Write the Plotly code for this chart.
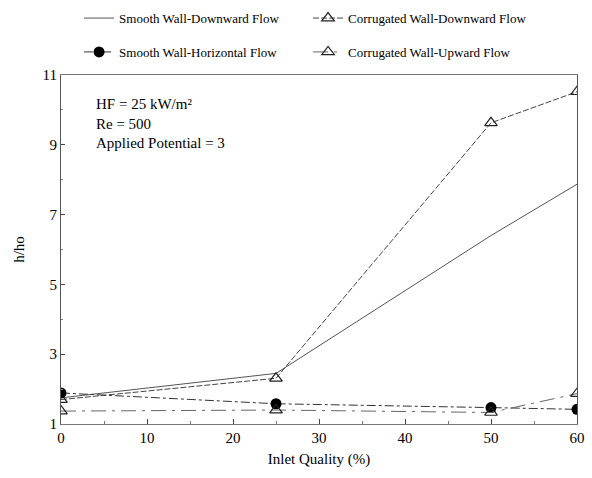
import plotly.graph_objects as go

# Inlet quality (%) at which h/ho was measured
inlet_quality = [0, 25, 50, 60]

# Heat transfer enhancement ratio h/ho for each configuration
smooth_downward = [1.75, 2.45, 6.4, 7.87]
corrugated_downward = [1.70, 2.31, 9.63, 10.52]
smooth_horizontal = [1.89, 1.58, 1.47, 1.42]
corrugated_upward = [1.37, 1.40, 1.33, 1.87]

y_ticks = [1, 3, 5, 7, 9, 11]
x_ticks = [0, 10, 20, 30, 40, 50, 60]

FONT = "Liberation Serif"

fig = go.Figure()

fig.add_trace(go.Scatter(
    x=inlet_quality, y=smooth_downward, name="Smooth Wall-Downward Flow",
    mode="lines", line=dict(color="#555555", width=1),
    legend="legend",
))
fig.add_trace(go.Scatter(
    x=inlet_quality, y=corrugated_downward, name="Corrugated Wall-Downward Flow",
    mode="lines+markers", line=dict(color="#444444", width=1, dash="6px,2px"),
    marker=dict(symbol="triangle-up-open", size=11, color="#222222",
                line=dict(width=1.2)),
    legend="legend",
))
fig.add_trace(go.Scatter(
    x=inlet_quality, y=smooth_horizontal, name="Smooth Wall-Horizontal Flow",
    mode="lines+markers", line=dict(color="#333333", width=1, dash="dashdot"),
    marker=dict(symbol="circle", size=11, color="black"),
    legend="legend2",
))
fig.add_trace(go.Scatter(
    x=inlet_quality, y=corrugated_upward, name="Corrugated Wall-Upward Flow",
    mode="lines+markers", line=dict(color="#666666", width=1, dash="longdashdot"),
    marker=dict(symbol="triangle-up-open", size=11, color="#222222",
                line=dict(width=1.2)),
    legend="legend2",
))

fig.add_annotation(
    x=0.064, y=0.946, xref="paper", yref="paper",
    xanchor="left", yanchor="top", align="left", showarrow=False,
    text="HF = 25 kW/m²<br>Re = 500<br>Applied Potential = 3",
    font=dict(family=FONT, size=15, color="black"),
)

legend_style = dict(
    orientation="h", xanchor="left", yanchor="middle",
    entrywidth=184, entrywidthmode="pixels",
    font=dict(family=FONT, size=13, color="black"),
    bgcolor="rgba(0,0,0,0)", itemwidth=30,
)

fig.update_layout(
    width=592, height=478,
    margin=dict(l=61, r=15, t=75, b=54, autoexpand=False),
    paper_bgcolor="white", plot_bgcolor="white",
    font=dict(family=FONT, size=15, color="black"),
    showlegend=True,
    legend=dict(x=0.035, y=1.163, **legend_style),
    legend2=dict(x=0.035, y=1.066, **legend_style),
    xaxis=dict(
        range=[0, 60], tickvals=x_ticks, ticks="inside", ticklen=5,
        tickcolor="#444", showgrid=False, zeroline=False,
        showline=True, linecolor="#777", linewidth=1, mirror=True,
        minor=dict(dtick=5, ticks="inside", ticklen=3, tickcolor="#777"),
        title=dict(text="Inlet Quality (%)", standoff=8,
                   font=dict(family=FONT, size=15)),
        tickfont=dict(family=FONT, size=15),
    ),
    yaxis=dict(
        range=[1, 11], tickvals=y_ticks, ticks="inside", ticklen=4,
        tickcolor="#444", showgrid=False, zeroline=False,
        showline=True, linecolor="#555", linewidth=1, mirror=True,
        minor=dict(dtick=1, ticks="inside", ticklen=2, tickcolor="#888"),
        title=dict(text="h/ho", standoff=14,
                   font=dict(family=FONT, size=15)),
        tickfont=dict(family=FONT, size=15),
    ),
)

fig.write_html("out.html")
